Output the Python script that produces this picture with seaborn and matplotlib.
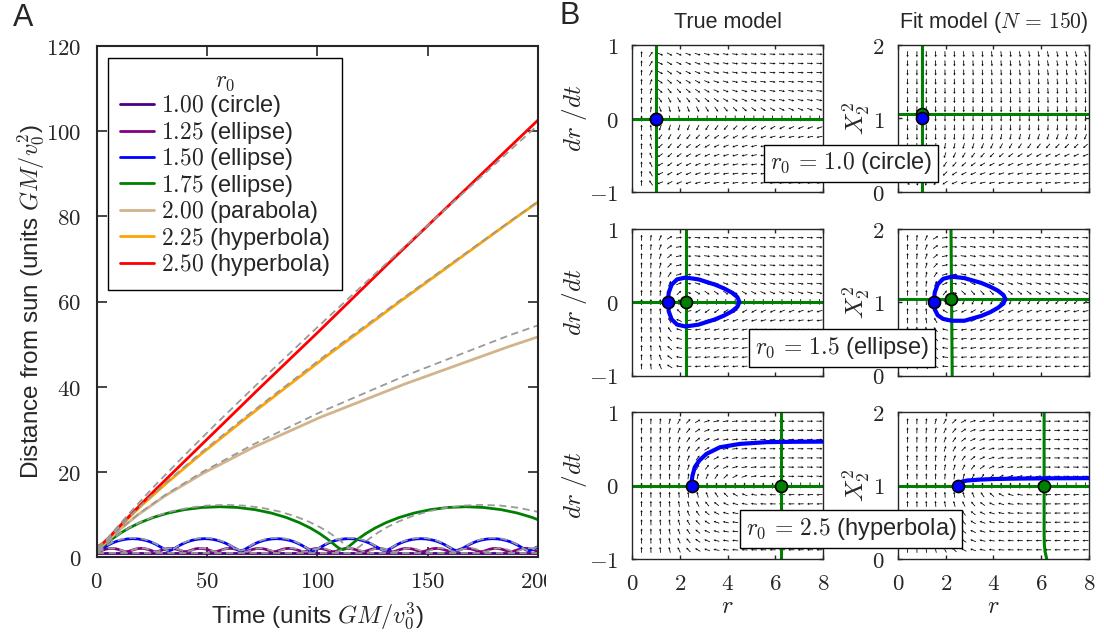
import numpy as np
import pandas as pd
import seaborn as sns
import matplotlib
matplotlib.use("Agg")
from matplotlib import pyplot as plt
from matplotlib.lines import Line2D
from matplotlib.patches import Rectangle

# ---------------- Panel A data ----------------
ORBIT_LABELS = ["1.00 (circle)", "1.25 (ellipse)", "1.50 (ellipse)", "1.75 (ellipse)",
                "2.00 (parabola)", "2.25 (hyperbola)", "2.50 (hyperbola)"]
ORBIT_COLORS = ["#4b0082", "#800080", "#0000ff", "#008000", "#d2b48c", "#ffa500", "#ff0000"]

# circle
T_CIRCLE = [0.0, 200.0]
R_CIRCLE = [1.0, 1.0]

# bound orbits: half a cycle (fraction of period, distance), starting at perihelion
PHASE_125 = [0.0, 0.0634, 0.1322, 0.2102, 0.2989, 0.3968, 0.5]
R_125_TRUE = [1.25, 1.306, 1.458, 1.667, 1.875, 2.028, 2.083]
R_125_FIT = [1.25, 1.30, 1.44, 1.63, 1.83, 1.97, 2.02]
PERIOD_125 = (13.53, 13.4)  # true, fit

PHASE_150 = [0.0, 0.0211, 0.0435, 0.0687, 0.0978, 0.1315, 0.1704, 0.2148, 0.2644, 0.3187,
             0.3769, 0.4377, 0.5]
R_150_TRUE = [1.5, 1.551, 1.701, 1.939, 2.25, 2.612, 3.0, 3.388, 3.75, 4.061, 4.299, 4.449, 4.5]
R_150_FIT = [1.5, 1.548, 1.688, 1.910, 2.2, 2.538, 2.9, 3.262, 3.6, 3.890, 4.112, 4.252, 4.3]
PERIOD_150 = (32.65, 32.65)

PHASE_175 = [0.0, 0.0108, 0.0237, 0.0406, 0.0633, 0.0930, 0.1306, 0.1764, 0.230, 0.2906,
             0.357, 0.4274, 0.5]
R_175_TRUE = [1.75, 1.929, 2.453, 3.288, 4.375, 5.641, 7.0, 8.359, 9.625, 10.712, 11.547,
              12.071, 12.25]
R_175_FIT = [1.75, 1.921, 2.423, 3.222, 4.262, 5.474, 6.775, 8.076, 9.288, 10.328, 11.127,
             11.629, 11.8]
PERIOD_175 = (116.4, 111.5)

# unbound orbits
T_200_TRUE = [0, 1.02, 2.17, 3.56, 5.33, 10.5, 18.67, 30.8, 48, 71.2, 101.3, 139.5, 186.7, 200]
R_200_TRUE = [2.0, 2.125, 2.5, 3.125, 4.0, 6.5, 10.0, 14.5, 20.0, 26.5, 34.0, 42.5, 52.0, 54.4]
T_200_FIT = T_200_TRUE
R_200_FIT = [2.0, 2.125, 2.5, 3.12, 3.98, 6.45, 9.9, 14.3, 19.6, 25.8, 32.8, 40.6, 49.4, 51.7]

T_225_TRUE = [0, 1.78, 4.09, 7.5, 12.66, 20.3, 31.36, 46.9, 68.4, 104.5, 136.7, 188.6, 200.9]
R_225_TRUE = [2.25, 2.60, 3.69, 5.57, 8.36, 12.24, 17.46, 24.35, 33.3, 47.7, 60.0, 79.3, 83.8]
T_225_FIT = T_225_TRUE
R_225_FIT = [2.25, 2.60, 3.65, 5.5, 8.25, 12.1, 17.2, 24.0, 32.9, 47.3, 59.7, 79.2, 83.7]

T_250_TRUE = [0, 1.44, 3.15, 5.41, 8.53, 12.89, 18.94, 27.2, 38.46, 53.5, 73.5, 99.9, 134.5, 190.1, 201.2]
R_250_TRUE = [2.5, 2.74, 3.46, 4.71, 6.57, 9.16, 12.64, 17.23, 23.2, 30.98, 40.99, 53.9, 70.5, 96.8, 102.0]
T_250_FIT = [0, 1.44, 3.15, 5.41, 8.53, 12.89, 18.94, 27.2, 38.46, 53.5, 73.5, 99.9, 134.5, 190.1, 200]
R_250_FIT = [2.5, 2.72, 3.38, 4.5, 6.2, 8.6, 11.8, 16.1, 21.8, 29.4, 39.5, 52.6, 70.1, 97.7, 102.6]

# ---------------- Panel B data ----------------
ROW_TEXT = ["$r_0\\,=\\,1.0$ (circle)", "$r_0\\,=\\,1.5$ (ellipse)", "$r_0\\,=\\,2.5$ (hyperbola)"]
R_EQ_TRUE = [1.0, 2.25, 6.25]          # true-model fixed point (green)
R_EQ_FIT = [1.0, 2.22, 6.12]           # fit-model fixed point (green)
Y_EQ_FIT = [1.06, 1.04, 1.0]
R_START = [1.0, 1.5, 2.5]              # initial condition (blue)
Y_START_FIT = [1.0, 1.0, 1.0]

LOOP_R = [1.5, 1.539, 1.662, 1.889, 2.25, 2.782, 3.481, 3.853, 4.182, 4.416, 4.5,
          4.416, 4.182, 3.853, 3.481, 2.782, 2.25, 1.889, 1.662, 1.539, 1.5]
LOOP_V = [0, 0.128, 0.236, 0.308, 0.333, 0.308, 0.236, 0.185, 0.128, 0.065, 0,
          -0.065, -0.128, -0.185, -0.236, -0.308, -0.333, -0.308, -0.236, -0.128, 0]
LOOP_Y_FIT = [1.0, 1.13, 1.24, 1.315, 1.345, 1.325, 1.26, 1.21, 1.155, 1.095, 1.04,
              0.98, 0.92, 0.86, 0.81, 0.745, 0.745, 0.77, 0.82, 0.9, 1.0]

HYP_R = [2.49, 2.50, 2.53, 2.63, 2.82, 3.12, 3.68, 4.52, 5.64, 6.8, 8.0]
HYP_V = [0, 0.06, 0.13, 0.25, 0.34, 0.43, 0.52, 0.566, 0.59, 0.595, 0.597]
HYP_R_FIT = [2.5, 2.56, 2.7, 2.9, 3.4, 4.0, 5.0, 6.5, 8.0]
HYP_Y_FIT = [1.0, 1.035, 1.055, 1.068, 1.08, 1.088, 1.094, 1.098, 1.1]

NULL_FIT_R = [[1.0, 1.0], [2.22, 2.27], [6.12, 6.12, 6.13, 6.16, 6.23]]
NULL_FIT_Y = [[0.0, 2.0], [2.0, 0.0], [2.0, 0.35, 0.2, 0.1, 0.0]]

QUIVER_R = np.linspace(0.4, 7.85, 20)
QUIVER_V = np.linspace(-0.875, 0.875, 15)

GREEN = "#008000"
BLUE = "#0000ff"


def periodic_orbit(phase_half, r_half, period, t_end=205.0):
    phase_half = np.asarray(phase_half)
    r_half = np.asarray(r_half)
    phase = np.concatenate([phase_half, 1.0 - phase_half[-2::-1]])
    r = np.concatenate([r_half, r_half[-2::-1]])
    n = int(np.ceil(t_end / period))
    t = np.concatenate([(k + phase[:-1]) * period for k in range(n)] + [[n * period]])
    rr = np.concatenate([r[:-1]] * n + [r[:1]])
    return t, rr


sns.set_style("ticks")
plt.rcParams["font.family"] = ["Liberation Sans", "DejaVu Sans"]
plt.rcParams["mathtext.fontset"] = "cm"
FS_A = 17.5   # panel A labels
FS_B = 15.5   # panel B titles
FS_TICK = 16.5

fig = plt.figure(figsize=(11.04, 6.36), dpi=100)


def px_rect(x0, y0, x1, y1):
    W, H = 1104.0, 636.0
    return [x0 / W, 1 - y1 / H, (x1 - x0) / W, (y1 - y0) / H]


# ---------------- Panel A ----------------
axA = fig.add_axes(px_rect(96.7, 46, 538, 557))

fit_curves = [(T_CIRCLE, R_CIRCLE),
              periodic_orbit(PHASE_125, R_125_FIT, PERIOD_125[1]),
              periodic_orbit(PHASE_150, R_150_FIT, PERIOD_150[1]),
              periodic_orbit(PHASE_175, R_175_FIT, PERIOD_175[1]),
              (T_200_FIT, R_200_FIT), (T_225_FIT, R_225_FIT), (T_250_FIT, R_250_FIT)]
true_curves = [(T_CIRCLE, R_CIRCLE),
               periodic_orbit(PHASE_125, R_125_TRUE, PERIOD_125[0]),
               periodic_orbit(PHASE_150, R_150_TRUE, PERIOD_150[0]),
               periodic_orbit(PHASE_175, R_175_TRUE, PERIOD_175[0]),
               (T_200_TRUE, R_200_TRUE), (T_225_TRUE, R_225_TRUE), (T_250_TRUE, R_250_TRUE)]

fit_df = pd.concat([pd.DataFrame({"t": t, "r": r, "orbit": lab})
                    for lab, (t, r) in zip(ORBIT_LABELS, fit_curves)])
true_df = pd.concat([pd.DataFrame({"t": t, "r": r, "orbit": lab})
                     for lab, (t, r) in zip(ORBIT_LABELS, true_curves)])

sns.lineplot(data=fit_df, x="t", y="r", hue="orbit", hue_order=ORBIT_LABELS,
             palette=dict(zip(ORBIT_LABELS, ORBIT_COLORS)), estimator=None,
             lw=2, legend=False, ax=axA)
sns.lineplot(data=true_df, x="t", y="r", units="orbit", estimator=None, color="#9a9a9a",
             lw=1.3, linestyle=(0, (4, 2.5)), legend=False, ax=axA)

axA.set_xlim(0, 200)
axA.set_ylim(0, 120)
axA.set_xticks([0, 50, 100, 150, 200], labels=[f"${v}$" for v in [0, 50, 100, 150, 200]])
axA.set_yticks(range(0, 121, 20), labels=[f"${v}$" for v in range(0, 121, 20)])
axA.tick_params(direction="in", top=True, right=True, length=7, width=1.2, labelsize=FS_TICK)
axA.tick_params(axis="y", pad=11)
axA.tick_params(axis="x", pad=9)
for s in axA.spines.values():
    s.set_linewidth(1.5)
axA.set_xlabel("Time (units $GM/v_0^3$)", fontsize=FS_A)
axA.set_ylabel("Distance from sun (units $GM/v_0^2$)", fontsize=FS_A)
axA.xaxis.set_label_coords(0.5, -0.086)
axA.yaxis.set_label_coords(-0.116, 0.5)

handles = [Line2D([], [], color=c, lw=2) for c in ORBIT_COLORS]
labels = [f"${lab.split()[0]}$ {lab.split()[1]}" for lab in ORBIT_LABELS]
leg = axA.legend(handles, labels, title="$r_0$", loc="upper left",
                 bbox_to_anchor=(0.0256, 0.9765), borderaxespad=0, fontsize=17,
                 title_fontsize=17, frameon=True, fancybox=False, framealpha=1,
                 edgecolor="black", handlelength=1.45, handletextpad=0.3,
                 labelspacing=0.02, borderpad=0.5)
leg.get_frame().set_linewidth(1.0)

# ---------------- Panel B ----------------
ROW_TOPS = [45, 228.5, 412]
ROW_H = 147
COL_LEFTS = [632, 898]
COL_W = 191
BOX_CENTERS = [(851, 163.5), (842, 347.7), (851, 528.7)]

RG, VG = np.meshgrid(QUIVER_R, QUIVER_V)
SX, SY = COL_W / 8.0, ROW_H / 2.0


def draw_field(ax, R, Y, dr, dy):
    px = dr * SX
    py = dy * SY
    n = np.hypot(px, py)
    n[n == 0] = 1
    ax.quiver(R, Y, px / n * 6, py / n * 6, units="dots", scale_units="dots", scale=1,
              angles="uv", width=0.8, headwidth=3, headlength=2.6, headaxislength=2.4,
              pivot="middle", color="black", zorder=1)


def style_b(ax, ylim, bottom):
    ax.set_xlim(0, 8)
    ax.set_ylim(*ylim)
    ax.set_xticks([0, 2, 4, 6, 8], labels=[f"${v}$" for v in [0, 2, 4, 6, 8]] if bottom else [])
    yt = [ylim[0], (ylim[0] + ylim[1]) / 2, ylim[1]]
    ax.set_yticks(yt, labels=[f"${int(v)}$" for v in yt])
    ax.tick_params(direction="in", top=True, right=True, length=3, width=1, labelsize=FS_TICK)
    ax.tick_params(axis="y", pad=10)
    ax.tick_params(axis="x", pad=9)
    for s in ax.spines.values():
        s.set_linewidth(1.0)
    if bottom:
        ax.set_xlabel("$r$", fontsize=FS_TICK + 1)
        ax.xaxis.set_label_coords(0.5, -0.25)


for i in range(3):
    bottom = i == 2
    # true model
    axL = fig.add_axes(px_rect(COL_LEFTS[0], ROW_TOPS[i], COL_LEFTS[0] + COL_W, ROW_TOPS[i] + ROW_H))
    L2 = R_EQ_TRUE[i]
    draw_field(axL, RG, VG, VG, L2 / RG ** 3 - 1.0 / RG ** 2)
    axL.axhline(0, color=GREEN, lw=2.2, zorder=2)
    axL.axvline(R_EQ_TRUE[i], color=GREEN, lw=2.2, zorder=2)
    if i == 1:
        sns.lineplot(x=LOOP_R, y=LOOP_V, sort=False, estimator=None, color=BLUE, lw=3,
                     ax=axL, zorder=3)
    if i == 2:
        sns.lineplot(x=HYP_R, y=HYP_V, sort=False, estimator=None, color=BLUE, lw=3,
                     ax=axL, zorder=3)
    sns.scatterplot(x=[R_EQ_TRUE[i]], y=[0], color=GREEN, edgecolor="black", s=75,
                    linewidth=1.2, ax=axL, zorder=4)
    sns.scatterplot(x=[R_START[i]], y=[0], color=BLUE, edgecolor="black", s=75,
                    linewidth=1.2, ax=axL, zorder=5)
    style_b(axL, (-1, 1), bottom)
    axL.set_ylabel("$dr\\ /dt$", fontsize=18)
    axL.yaxis.set_label_coords(-0.225, 0.5)

    # fit model
    axR = fig.add_axes(px_rect(COL_LEFTS[1], ROW_TOPS[i], COL_LEFTS[1] + COL_W, ROW_TOPS[i] + ROW_H))
    YG = VG + 1.0
    if i == 0:
        d = YG - Y_EQ_FIT[0]
        dr = np.where(d < 0, 6 * d ** 3 * (RG - 1) / 3.0, 0.3 * d * (RG - 1) / 7.0) / SX * SY
        draw_field(axR, RG, YG, dr, -np.ones_like(d))
    else:
        draw_field(axR, RG, YG, YG - Y_EQ_FIT[i], R_EQ_FIT[i] / RG ** 3 - 1.0 / RG ** 2)
    axR.axhline(Y_EQ_FIT[i], color=GREEN, lw=2.2, zorder=2)
    sns.lineplot(x=NULL_FIT_R[i], y=NULL_FIT_Y[i], sort=False, estimator=None, color=GREEN,
                 lw=2.2, ax=axR, zorder=2)
    if i == 1:
        sns.lineplot(x=LOOP_R, y=LOOP_Y_FIT, sort=False, estimator=None, color=BLUE, lw=3,
                     ax=axR, zorder=3)
    if i == 2:
        sns.lineplot(x=HYP_R_FIT, y=HYP_Y_FIT, sort=False, estimator=None, color=BLUE, lw=3,
                     ax=axR, zorder=3)
    sns.scatterplot(x=[R_EQ_FIT[i]], y=[Y_EQ_FIT[i]], color=GREEN, edgecolor="black", s=75,
                    linewidth=1.2, ax=axR, zorder=4)
    sns.scatterplot(x=[R_START[i]], y=[Y_START_FIT[i]], color=BLUE, edgecolor="black", s=75,
                    linewidth=1.2, ax=axR, zorder=5)
    style_b(axR, (0, 2), bottom)
    axR.set_ylabel("$X_2^2$", fontsize=18)
    axR.yaxis.set_label_coords(-0.13, 0.5)

    if i == 0:
        axL.set_title("True model", fontsize=FS_B, pad=12)
        axR.set_title("Fit model ($N\\,=\\,150$)", fontsize=FS_B, pad=12)

    bx, by = BOX_CENTERS[i]
    fig.text(bx / 1104, 1 - by / 636, ROW_TEXT[i], fontsize=17, ha="center", va="center",
             zorder=10, bbox=dict(boxstyle="square,pad=0.25", fc="white", ec="black", lw=1))

# panel letters
fig.text(13 / 1104, 1 - 3 / 636, "A", fontsize=22, ha="left", va="top")
fig.text(559 / 1104, 1 - 1 / 636, "B", fontsize=22, ha="left", va="top")

# the right edge of panel A's last tick label is cut off in the original figure
fig.add_artist(Rectangle((546 / 1104, 1 - 594 / 636), 24 / 1104, 30 / 636,
                         transform=fig.transFigure, facecolor="white", edgecolor="none",
                         zorder=20))

fig.savefig("out.png", dpi=100)
